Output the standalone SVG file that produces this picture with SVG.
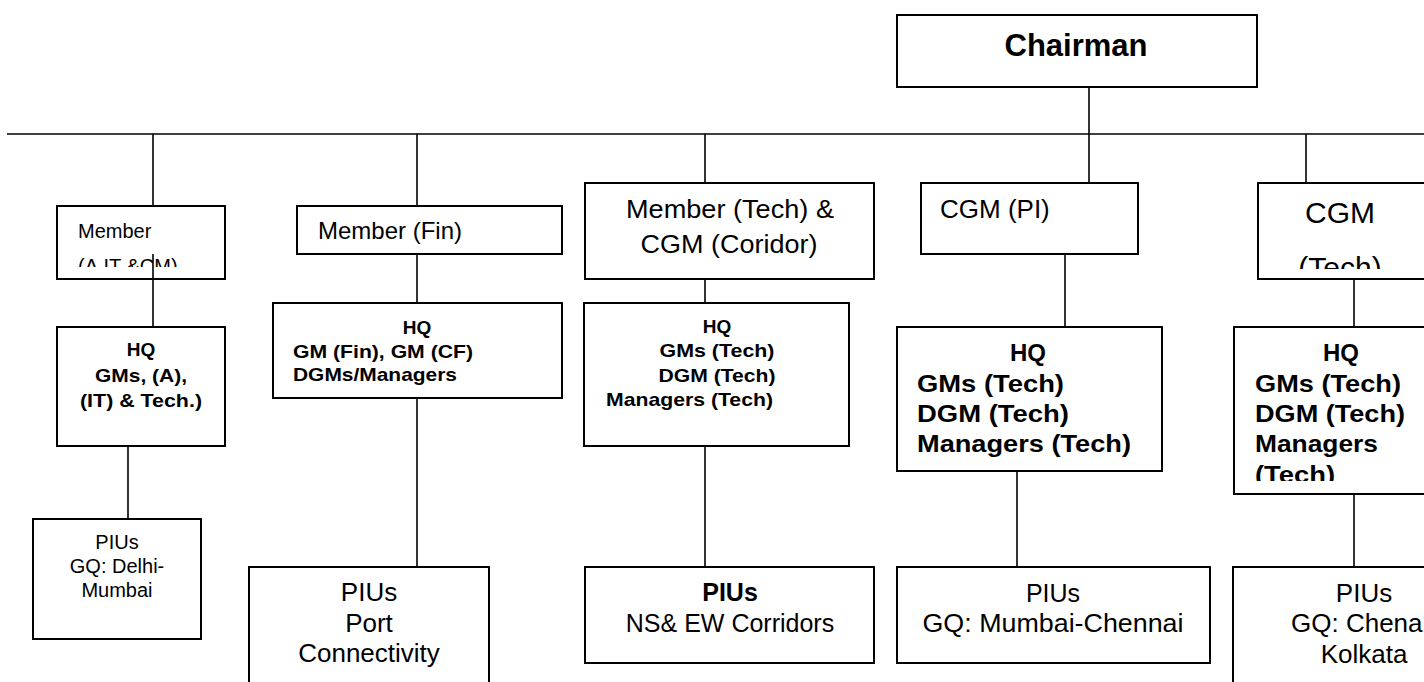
<svg xmlns="http://www.w3.org/2000/svg" width="1424" height="682" viewBox="0 0 1424 682">
<style>
.box{fill:#fff;stroke:#000;stroke-width:2}
.cn line{stroke:#000;stroke-width:1.6}
text{font-family:"Liberation Sans",Arial,sans-serif;fill:#000}
.b{font-weight:bold}
.m{text-anchor:middle}
</style>
<defs>
<clipPath id="c1"><rect x="57" y="206" width="168" height="61"/></clipPath>
<clipPath id="c2"><rect x="1258" y="183" width="170" height="86"/></clipPath>
<clipPath id="c3"><rect x="1234" y="327" width="194" height="154"/></clipPath>
</defs>
<rect width="1424" height="682" fill="#fff"/>

<g id="chairman">
<rect class="box" x="897" y="15" width="360" height="72"/>
<text class="b m" x="1076" y="56" font-size="31">Chairman</text>
</g>

<g id="member-a">
<rect class="box" x="57" y="206" width="168" height="73"/>
<g clip-path="url(#c1)" font-size="20">
<text x="78" y="238">Member</text>
<text x="78" y="273">(A,IT &amp;CM)</text>
</g>
</g>
<g id="hq-a">
<rect class="box" x="57" y="327" width="168" height="119"/>
<g class="b m" font-size="19" lengthAdjust="spacingAndGlyphs">
<text x="141" y="356">HQ</text>
<text x="141" y="382" textLength="92" lengthAdjust="spacingAndGlyphs">GMs, (A),</text>
<text x="141" y="407" textLength="122" lengthAdjust="spacingAndGlyphs">(IT) &amp; Tech.)</text>
</g>
</g>
<g id="piu-a">
<rect class="box" x="33" y="519" width="168" height="120"/>
<g class="m" font-size="20">
<text x="117" y="549">PIUs</text>
<text x="117" y="573">GQ: Delhi-</text>
<text x="117" y="597">Mumbai</text>
</g>
</g>

<g id="member-fin">
<rect class="box" x="297" y="206" width="265" height="48"/>
<text x="318" y="239" font-size="24">Member (Fin)</text>
</g>
<g id="hq-fin">
<rect class="box" x="273" y="303" width="289" height="95"/>
<g class="b" font-size="19">
<text class="m" x="417" y="334">HQ</text>
<text x="293" y="358" textLength="180" lengthAdjust="spacingAndGlyphs">GM (Fin), GM (CF)</text>
<text x="293" y="381" textLength="164" lengthAdjust="spacingAndGlyphs">DGMs/Managers</text>
</g>
</g>
<g id="piu-port">
<rect class="box" x="249" y="567" width="240" height="130"/>
<g class="m" font-size="26">
<text x="369" y="601">PIUs</text>
<text x="369" y="632">Port</text>
<text x="369" y="662">Connectivity</text>
</g>
</g>

<g id="member-tech">
<rect class="box" x="585" y="183" width="289" height="96"/>
<g class="m" font-size="26">
<text x="730" y="218" textLength="208" lengthAdjust="spacingAndGlyphs">Member (Tech) &amp;</text>
<text x="729" y="253" textLength="177" lengthAdjust="spacingAndGlyphs">CGM (Coridor)</text>
</g>
</g>
<g id="hq-tech1">
<rect class="box" x="584" y="303" width="265" height="143"/>
<g class="b" font-size="19">
<text class="m" x="717" y="333">HQ</text>
<text class="m" x="717" y="357" textLength="115" lengthAdjust="spacingAndGlyphs">GMs (Tech)</text>
<text class="m" x="717" y="382" textLength="117" lengthAdjust="spacingAndGlyphs">DGM (Tech)</text>
<text x="606" y="406" textLength="167" lengthAdjust="spacingAndGlyphs">Managers (Tech)</text>
</g>
</g>
<g id="piu-ns">
<rect class="box" x="585" y="567" width="289" height="96"/>
<g class="m" font-size="25">
<text class="b" x="730" y="601">PIUs</text>
<text x="730" y="632">NS&amp; EW Corridors</text>
</g>
</g>

<g id="cgm-pi">
<rect class="box" x="921" y="183" width="217" height="71"/>
<text x="940" y="218" font-size="26">CGM (PI)</text>
</g>
<g id="hq-pi">
<rect class="box" x="897" y="327" width="265" height="144"/>
<g class="b" font-size="24">
<text class="m" x="1028" y="361">HQ</text>
<text x="917" y="392" textLength="147" lengthAdjust="spacingAndGlyphs">GMs (Tech)</text>
<text x="917" y="422" textLength="152" lengthAdjust="spacingAndGlyphs">DGM (Tech)</text>
<text x="917" y="452" textLength="214" lengthAdjust="spacingAndGlyphs">Managers (Tech)</text>
</g>
</g>
<g id="piu-pi">
<rect class="box" x="897" y="567" width="313" height="96"/>
<g class="m" font-size="25">
<text x="1053" y="602">PIUs</text>
<text x="1053" y="632" textLength="261" lengthAdjust="spacingAndGlyphs">GQ: Mumbai-Chennai</text>
</g>
</g>

<g id="cgm-tech">
<rect class="box" x="1258" y="183" width="180" height="96"/>
<g clip-path="url(#c2)" class="m" font-size="30">
<text x="1340" y="223">CGM</text>
<text x="1340" y="278">(Tech)</text>
</g>
</g>
<g id="hq-tech2">
<rect class="box" x="1234" y="327" width="200" height="167"/>
<g clip-path="url(#c3)" class="b" font-size="24">
<text class="m" x="1341" y="361">HQ</text>
<text x="1255" y="392" textLength="146" lengthAdjust="spacingAndGlyphs">GMs (Tech)</text>
<text x="1255" y="422" textLength="150" lengthAdjust="spacingAndGlyphs">DGM (Tech)</text>
<text x="1255" y="452" textLength="123" lengthAdjust="spacingAndGlyphs">Managers</text>
<text x="1255" y="483" textLength="80" lengthAdjust="spacingAndGlyphs">(Tech)</text>
</g>
</g>
<g id="piu-tech">
<rect class="box" x="1233" y="567" width="200" height="130"/>
<g class="m" font-size="26">
<text x="1364" y="602">PIUs</text>
<text x="1364" y="632">GQ: Chenai-</text>
<text x="1364" y="663">Kolkata</text>
</g>
</g>

<g id="connectors" class="cn">
<line x1="7" y1="134" x2="1424" y2="134"/>
<line x1="1089" y1="87" x2="1089" y2="183"/>
<line x1="153" y1="134" x2="153" y2="206"/>
<line x1="153" y1="254" x2="153" y2="327"/>
<line x1="128" y1="446" x2="128" y2="519"/>
<line x1="417" y1="134" x2="417" y2="206"/>
<line x1="417" y1="254" x2="417" y2="303"/>
<line x1="417" y1="398" x2="417" y2="567"/>
<line x1="705" y1="134" x2="705" y2="183"/>
<line x1="705" y1="279" x2="705" y2="303"/>
<line x1="705" y1="446" x2="705" y2="567"/>
<line x1="1065" y1="254" x2="1065" y2="327"/>
<line x1="1017" y1="471" x2="1017" y2="567"/>
<line x1="1306" y1="134" x2="1306" y2="183"/>
<line x1="1354" y1="279" x2="1354" y2="327"/>
<line x1="1354" y1="494" x2="1354" y2="567"/>
</g>
</svg>
